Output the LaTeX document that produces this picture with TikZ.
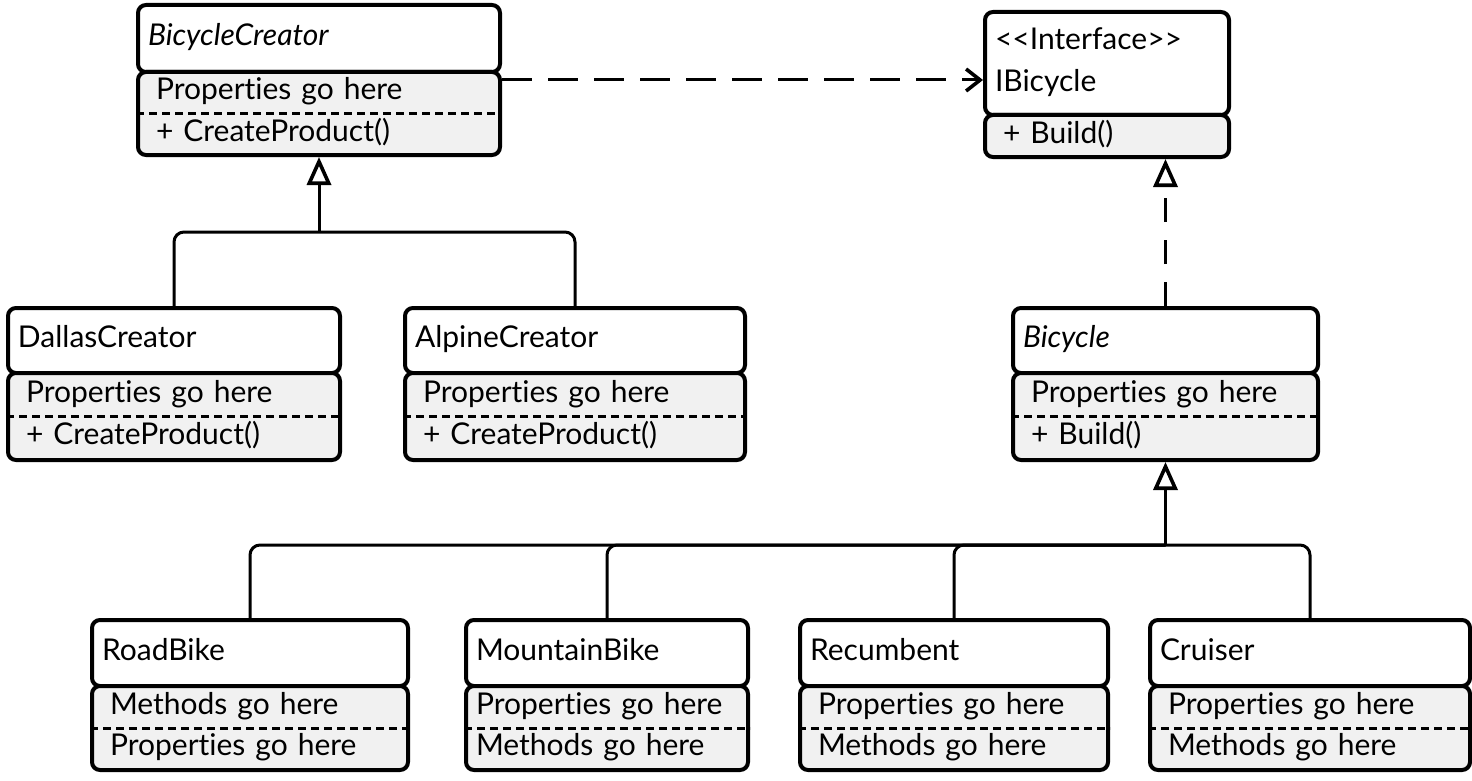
\documentclass[tikz,border=0pt]{standalone}
\usepackage{fontspec}
\setmainfont{Lato}[Ligatures=NoCommon]
\usepackage{xcolor}
\usepackage{tikz}
\usetikzlibrary{arrows.meta,calc}
\definecolor{membergray}{HTML}{F1F1F1}

\begin{document}
\begin{tikzpicture}[x=0.5pt,y=-0.5pt,
    every node/.append style={font=\fontsize{15}{20.75}\selectfont},
    classname/.style={draw, line width=2pt, rounded corners=4pt, fill=white, align=left, inner xsep=5pt, inner ysep=1pt, text height=11pt, text depth=4pt},
    members/.style={draw, line width=2pt, rounded corners=4pt, fill=membergray, align=left, inner xsep=9pt, inner ysep=1pt, text height=11pt, text depth=24.75pt},
    divider/.style={line width=1.5pt, dash pattern=on 4pt off 2.5pt},
    link/.style={line width=1.5pt, rounded corners=5pt},
    gen/.style={link, -{Triangle[fill=white, length=14pt, width=12pt, line width=1.8pt]}},
    real/.style={gen, dash pattern=on 12pt off 9pt},
    uses/.style={link, dash pattern=on 15pt off 8pt, -{Straight Barb[length=7pt, width=11pt, line width=1.8pt]}}]
    \useasboundingbox (0,0) rectangle (1472,781);
    % creators
    \node (bct) at (319,38.5) [classname, text width=171pt, minimum height=33.5pt] {\itshape BicycleCreator};
    \node (bcm) at (319,113.5) [members, text width=163pt, minimum height=41.5pt] {Properties go here\\+ CreateProduct()};
    \node (dct) at (174,340.5) [classname, text width=156pt, minimum height=32.5pt] {DallasCreator};
    \node (dcm) at (174,416.5) [members, text width=148pt, minimum height=43.5pt] {Properties go here\\+ CreateProduct()};
    \node (act) at (575,340.5) [classname, text width=160pt, minimum height=32.5pt] {AlpineCreator};
    \node (acm) at (575,416.5) [members, text width=152pt, minimum height=43.5pt] {Properties go here\\+ CreateProduct()};
    % products
    \node (ibt) at (1107,63.5) [classname, text width=112pt, minimum height=51.5pt, text depth=24.75pt] {<\kern0pt<Interface>\kern0pt>\\IBicycle};
    \node (ibm) at (1107,136) [members, text width=104pt, minimum height=21pt, text depth=4pt] {+ Build()};
    \node (bit) at (1165.5,340.5) [classname, text width=142.5pt, minimum height=32.5pt] {\itshape Bicycle};
    \node (bim) at (1165.5,416.5) [members, text width=134.5pt, minimum height=43.5pt] {Properties go here\\+ Build()};
    \node (rbt) at (250,653) [classname, text width=148pt, minimum height=33pt] {RoadBike};
    \node (rbm) at (250,728) [members, text width=140pt, minimum height=42pt] {Methods go here\\Properties go here};
    \node (mbt) at (607,653) [classname, text width=131pt, minimum height=33pt] {MountainBike};
    \node (mbm) at (607,728) [members, inner xsep=5pt, text width=131pt, minimum height=42pt] {Properties go here\\Methods go here};
    \node (rct) at (954,653) [classname, text width=144pt, minimum height=33pt] {Recumbent};
    \node (rcm) at (954,728) [members, text width=136pt, minimum height=42pt] {Properties go here\\Methods go here};
    \node (crt) at (1310,653) [classname, text width=150pt, minimum height=33pt] {Cruiser};
    \node (crm) at (1310,728) [members, text width=142pt, minimum height=42pt] {Properties go here\\Methods go here};
    % dashed lines between properties and methods
    \foreach \m in {bcm,dcm,acm,bim,rbm,mbm,rcm,crm}
        \draw[divider] (\m.west) -- (\m.east);
    % connectors
    \coordinate (bcj) at (bcm.south |- 0,232);
    \coordinate (bij) at (bim.south |- 0,545);
    \coordinate (bcdep) at ([yshift=-5pt]bcm.north east);
    \draw[link] (dct.north) |- (bcj) -| (act.north);
    \draw[gen] (bcj) -- (bcm.south);
    \draw[link] (rbt.north) |- (bij) -| (crt.north);
    \draw[link] (mbt.north) |- (bij);
    \draw[link] (rct.north) |- (bij);
    \draw[gen] (bij) -- (bim.south);
    \draw[real] (bit.north) -- (bit.north |- ibm.south);
    \draw[uses] (bcdep) -- (bcdep -| ibt.west);
\end{tikzpicture}
\end{document}
